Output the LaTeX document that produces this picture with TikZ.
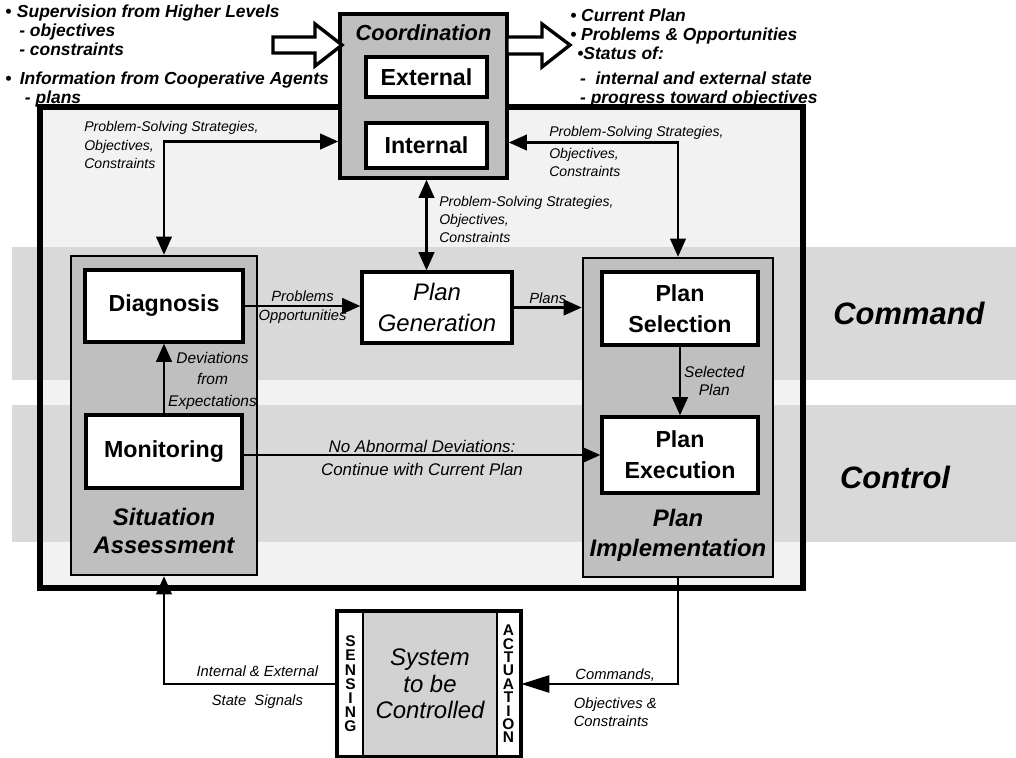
\documentclass[tikz,border=0pt]{standalone}
\usepackage{fontspec}
\setmainfont{Liberation Sans}
\usetikzlibrary{arrows.meta,positioning,calc}

\tikzset{
  box/.style={draw,line width=2.2pt,fill=white,inner sep=0pt,align=center,
    font=\fontsize{16.5}{22}\selectfont\bfseries},
  group/.style={draw,line width=1.6pt,fill=gray!50,inner sep=0pt},
  grouptitle/.style={font=\fontsize{17}{20}\selectfont\bfseries\itshape,align=center,inner sep=0pt},
  lbl/.style={font=\fontsize{10.5}{12.5}\selectfont\itshape,inner sep=2pt,align=center},
  psl/.style={font=\fontsize{10}{12.8}\selectfont\itshape,inner sep=0pt,align=left,anchor=north west},
  bandtext/.style={font=\fontsize{22}{26}\selectfont\bfseries\itshape},
  toptext/.style={font=\fontsize{12.4}{13.5}\selectfont\bfseries\itshape,align=left,inner sep=0pt,anchor=north west},
  flow/.style={line width=2pt,->},
  dflow/.style={line width=2pt,<->},
  fat/.style={line width=2.4pt,fill=white,line join=miter},
}

\begin{document}
\begin{tikzpicture}[x=0.025cm,y=-0.025cm,>={Triangle[length=13pt,width=11pt]}]
\useasboundingbox (0,0) rectangle (1016,757);

% background bands and the big frame
\fill[gray!10] (40,107) rectangle (803,588);
\fill[gray!30] (12,247) rectangle (1016,380);
\fill[gray!30] (12,405) rectangle (1016,542);
\draw[line width=4.3pt] (40,107) rectangle (803,588);

\node[bandtext] (17) at (909,313) {Command};
\node[bandtext] (18) at (895,477) {Control};

% coordination
\node[group,line width=2.4pt,minimum width=4.175cm,minimum height=4.1cm] (1) at (423.5,96) {};
\node[grouptitle,font=\fontsize{15.5}{18}\selectfont\bfseries\itshape] (16) at (423.5,33) {Coordination};
\node[box,minimum width=3.025cm,minimum height=1cm] (2) at (426.5,77) {External};
\node[box,minimum width=3.025cm,minimum height=1.125cm] (3) at (426.5,145.5) {Internal};

% inputs and outputs of coordination
\draw[fat] (273,37) -- (315,37) -- (315,24) -- (342,45) -- (315,66) -- (315,53) -- (273,53) -- cycle;
\draw[fat] (507,37) -- (542,37) -- (542,24) -- (570,45) -- (542,67) -- (542,54) -- (507,54) -- cycle;

\node[toptext] (19) at (5,5) {\textbullet\hspace{4pt}Supervision from Higher Levels\\
  \hspace*{10pt}- objectives\\
  \hspace*{10pt}- constraints\\[7pt]
  \textbullet\hspace{6pt}Information from Cooperative Agents\\
  \hspace*{14pt}- plans};
\node[toptext] (20) at (570,9) {\textbullet\ Current Plan\\
  \textbullet\ Problems \& Opportunities\\
  \hspace*{5pt}\textbullet Status of:\\[4pt]
  \hspace*{7pt}-\ \ internal and external state\\
  \hspace*{7pt}- progress toward objectives};

% situation assessment
\node[group,minimum width=4.65cm,minimum height=7.975cm] (4) at (164,415.5) {};
\node[grouptitle] (14) at (164,531) {Situation\\Assessment};
\node[box,minimum width=3.95cm,minimum height=1.8cm] (5) at (164,306) {Diagnosis};
\node[box,minimum width=3.9cm,minimum height=1.825cm] (6) at (164,451.5) {Monitoring};

% plan generation
\node[box,font=\fontsize{17}{22}\selectfont\itshape,minimum width=3.75cm,minimum height=1.775cm] (7) at (437,307.5) {Plan\\Generation};

% plan implementation
\node[group,minimum width=4.75cm,minimum height=7.975cm] (8) at (678,417.5) {};
\node[grouptitle,font=\fontsize{17}{21.3}\selectfont\bfseries\itshape] (15) at (678,535) {Plan\\Implementation};
\node[box,minimum width=3.9cm,minimum height=1.825cm] (9) at (680,308.5) {Plan\\Selection};
\node[box,minimum width=3.9cm,minimum height=1.9cm] (10) at (680,455) {Plan\\Execution};

% system to be controlled
\node[group,fill=gray!35,minimum width=3.35cm,minimum height=3.6cm,align=center,
  font=\fontsize{17}{19}\selectfont\itshape] (11) at (430,684) {System\\to be\\Controlled};
\node[box,line width=1.6pt,minimum width=0.625cm,minimum height=3.6cm,
  font=\fontsize{11}{10.1}\selectfont\bfseries] (12) at (350.5,684) {S\\E\\N\\S\\I\\N\\G};
\node[box,line width=1.6pt,minimum width=0.575cm,minimum height=3.6cm,
  font=\fontsize{11}{9.5}\selectfont\bfseries] (13) at (508.5,684) {A\\C\\T\\U\\A\\T\\I\\O\\N};
\draw[line width=2pt] (12.north west) rectangle (13.south east);

% strategies, objectives, constraints
\draw[dflow] (4.north) |- ($(1.west |- 3.west)+(0,-4)$);
\draw[dflow] (8.north) |- ($(1.east |- 3.east)+(0,-3)$);
\draw[dflow] (1.south -| 3) -- (7.north -| 3);
\node[psl] (23) at (84,121) {Problem-Solving Strategies,\\[1pt]Objectives,\\Constraints};
\node[psl] (24) at (439,196) {Problem-Solving Strategies,\\Objectives,\\Constraints};
\node[psl] (25) at (549,126) {Problem-Solving Strategies,\\[3pt]Objectives,\\Constraints};

% command level
\draw[flow] (5.east) -- node[lbl,above] (21) {Problems} node[lbl,below] (22) {Opportunities} (5.east -| 7.west);
\draw[flow] (7.east) -- node[lbl,above] (26) {Plans} (7.east -| 8.west);
\draw[flow] (9) -- node[lbl,right,font=\fontsize{11}{12.8}\selectfont\itshape] (28) {Selected\\Plan} (10);

% control level
\draw[flow] (6) -- node[lbl,right,yshift=-0.06cm,font=\fontsize{11}{15.5}\selectfont\itshape] (27) {Deviations\\from\\Expectations} (5);
\draw[flow] (6.east |- 10) -- node[lbl,above,inner sep=1pt,font=\fontsize{12}{14}\selectfont\itshape] (29) {No Abnormal Deviations:}
  node[lbl,below=4pt,inner sep=1pt,font=\fontsize{12}{14}\selectfont\itshape] (30) {Continue with Current Plan} (10.west);

% loop through the system
\draw[flow,>={Triangle[length=20pt,width=12pt]}] (8.south) |- node[lbl,pos=0.7,above,inner sep=1pt] (31) {Commands,}
  node[lbl,pos=0.7,below=7pt,align=left,font=\fontsize{10.5}{12.5}\selectfont\itshape] (32) {Objectives \&\\Constraints} (13.east);
\draw[flow] (12.west) -| node[lbl,pos=0.23,above=2pt] (33) {Internal \& External}
  node[lbl,pos=0.23,below=5pt] (34) {State~~Signals} (4.south);
\end{tikzpicture}
\end{document}
